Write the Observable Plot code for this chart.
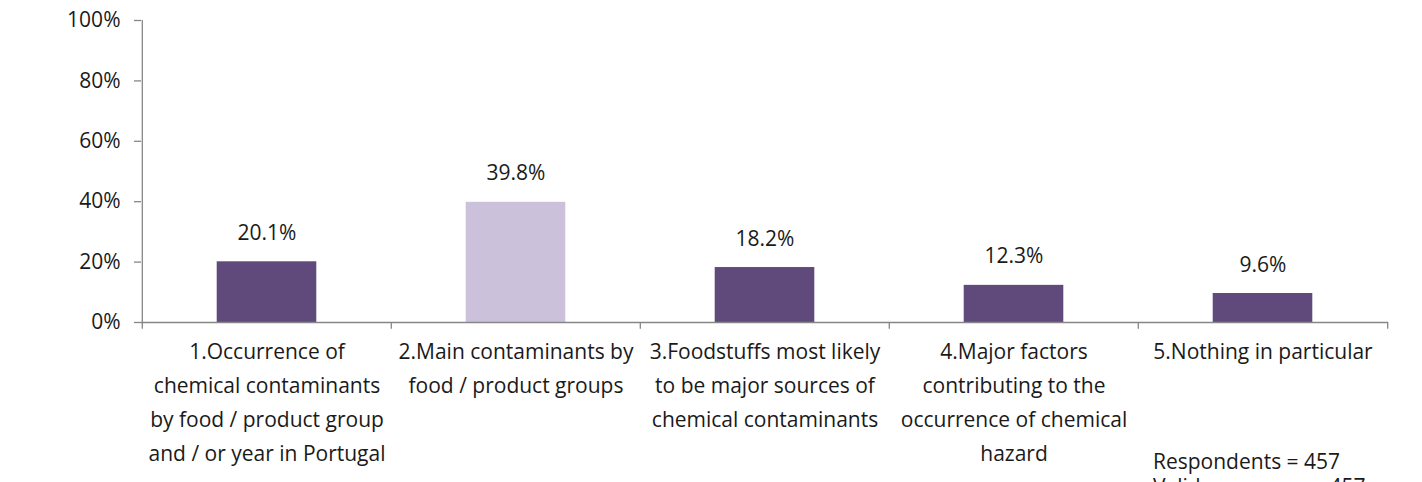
<!DOCTYPE html>
<html>
<head>
<meta charset="utf-8">
<script src="https://cdn.jsdelivr.net/npm/d3@7"></script>
<script src="https://cdn.jsdelivr.net/npm/@observablehq/plot@0.6"></script>
<style>
  html, body { margin: 0; padding: 0; background: #fff; }
  #chart svg { display: block; }
</style>
</head>
<body>
<div id="chart"></div>
<script>
const categories = ["c1", "c2", "c3", "c4", "c5"];
const labels = [
  "1.Occurrence of\nchemical contaminants\nby food / product group\nand / or year in Portugal",
  "2.Main contaminants by\nfood / product groups",
  "3.Foodstuffs most likely\nto be major sources of\nchemical contaminants",
  "4.Major factors\ncontributing to the\noccurrence of chemical\nhazard",
  "5.Nothing in particular"
];
const values = [20.1, 39.8, 18.2, 12.3, 9.6];
const yTicks = [0, 20, 40, 60, 80, 100];
const note = "Respondents = 457\nValid responses = 457";

const data = categories.map((c, i) => ({cat: c, label: labels[i], value: values[i]}));
const maxVal = d3.max(values);

const W = 1422, H = 482;
const mL = 141, mR = 34, mT = 20, mB = 160;
const step = (W - mL - mR) / categories.length;
const axisColor = "#868686";
const ink = "#1a1a1a";
const font = "'Open Sans', 'Noto Sans', sans-serif";
const fs = 21;

const plot = Plot.plot({
  width: W,
  height: H,
  marginLeft: mL,
  marginRight: mR,
  marginTop: mT,
  marginBottom: mB,
  style: {fontFamily: font, fontSize: fs + "px", color: ink, background: "#fff"},
  x: {domain: categories, padding: 0, axis: null},
  y: {domain: [0, 100], axis: null},
  marks: [
    Plot.barY(data, {
      x: "cat", y: "value",
      insetLeft: (step - 100) / 2, insetRight: (step - 100) / 2,
      fill: d => d.value === maxVal ? "#ccc1da" : "#604a7b"
    }),
    // y axis line and ticks
    Plot.ruleX(categories.slice(0, 1), {x: d => d, dx: -step / 2, y1: 0, y2: 100, stroke: axisColor, strokeWidth: 1.3}),
    Plot.axisY({
      ticks: yTicks, tickFormat: d => d + "%", tickSize: 7, tickPadding: 14,
      stroke: axisColor, strokeWidth: 1.3, strokeOpacity: 1,
      fontSize: fs, fill: ink, label: null
    }),
    // x axis baseline and boundary ticks
    Plot.ruleY([0], {stroke: axisColor, strokeWidth: 1.3}),
    Plot.ruleX(categories, {x: d => d, dx: -step / 2, y1: 0, y2: -2.2, stroke: axisColor, strokeWidth: 1.3}),
    Plot.ruleX(categories.slice(-1), {x: d => d, dx: step / 2, y1: 0, y2: -2.2, stroke: axisColor, strokeWidth: 1.3}),
    Plot.text(data, {
      x: "cat", y: "value", text: d => d.value.toFixed(1) + "%",
      lineAnchor: "bottom", dy: -22, fontSize: fs, fill: ink
    }),
    Plot.text(data, {
      x: "cat", text: "label", frameAnchor: "bottom",
      lineAnchor: "top", dy: 12, lineHeight: 34 / fs, fontSize: fs, fill: ink
    }),
    Plot.text([note], {
      x: () => categories[categories.length - 1], text: d => d, frameAnchor: "bottom",
      textAnchor: "start", lineAnchor: "top", dx: -110, dy: 129, lineHeight: 25 / fs,
      fontSize: fs, fill: ink
    })
  ]
});
document.getElementById("chart").appendChild(plot);
</script>
</body>
</html>
